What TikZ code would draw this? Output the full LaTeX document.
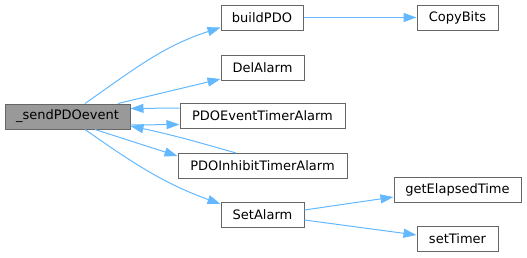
\documentclass[tikz,border=0pt]{standalone}
\usepackage{fontspec}
\setmainfont{DejaVu Sans}
\usepackage{xcolor}
\usepackage{tikz}
\usetikzlibrary{arrows.meta, positioning}

\definecolor{callblue}{HTML}{63B8FF}
\definecolor{boxgray}{HTML}{666666}
\definecolor{rootgray}{HTML}{999999}

\begin{document}
\begin{tikzpicture}[
                x=1pt, y=-1pt,
                func/.style={rectangle, draw=boxgray, line width=1pt, fill=white,
                    minimum height=25pt, inner sep=0pt,
                    font=\fontsize{13}{15}\selectfont},
                root/.style={fill=rootgray},
                call/.style={draw=callblue, line width=1pt,
                    -{Triangle[length=13pt, width=9pt]}}
            ]
                \useasboundingbox (0,0) rectangle (527,257);

                % Nodes
                \node[func, root, minimum width=125pt] (send) at (67.5,116.5) {\_sendPDOevent};
                \node[func, minimum width=82pt] (build) at (262,17.5) {buildPDO};
                \node[func, minimum width=81pt] (copy) at (457.5,17.5) {CopyBits};
                \node[func, minimum width=83pt] (del) at (262.5,67.5) {DelAlarm};
                \node[func, minimum width=165pt] (evt) at (262.5,116) {PDOEventTimerAlarm};
                \node[func, minimum width=169pt] (inh) at (262.5,166) {PDOInhibitTimerAlarm};
                \node[func, minimum width=83pt] (set) at (262.5,215) {SetAlarm};
                \node[func, minimum width=127pt] (elapsed) at (457.5,190) {getElapsedTime};
                \node[func, minimum width=81pt] (timer) at (457.5,239) {setTimer};

                % Edges
                \draw[call] ([xshift=17.5pt]send.north) to[out=35, in=198] ([yshift=-10pt]build.west);
                \draw[call] ([xshift=50.5pt]send.north) -- ([yshift=-11.5pt]del.west);
                \draw[call] ([yshift=8pt]evt.west) -- ([yshift=8pt]send.east);
                \draw[call] ([yshift=-8.5pt]send.east) -- ([yshift=-8.5pt]evt.west);
                \draw[call] ([xshift=27.5pt]send.south) -- ([yshift=10pt]inh.west);
                \draw[call] ([xshift=-26.5pt]inh.north) to[out=164, in=-12] ([yshift=-9.5pt]send.east);
                \draw[call] ([xshift=17.5pt]send.south) to[out=-35, in=160] ([yshift=11pt]set.west);
                \draw[call] (build.east) -- (copy.west);
                \draw[call] ([yshift=5pt]set.east) -- ([yshift=-7pt]elapsed.west);
                \draw[call] ([yshift=-5pt]set.east) -- ([yshift=4pt]timer.west);
            \end{tikzpicture}
\end{document}
